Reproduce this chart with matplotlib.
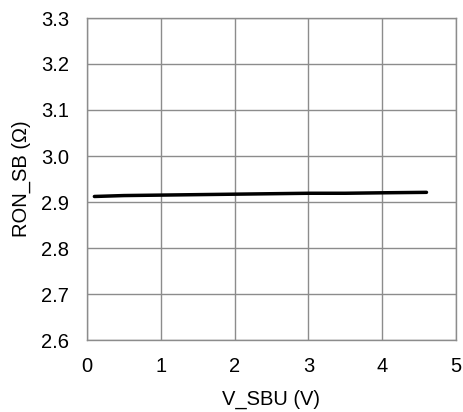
import matplotlib
matplotlib.use('Agg')
import matplotlib.pyplot as plt

# values
v_sbu = [0.1, 0.5, 1.0, 1.5, 2.0, 2.5, 3.0, 3.5, 4.0, 4.6]
ron_sb = [2.912, 2.914, 2.915, 2.916, 2.917, 2.918, 2.919, 2.919, 2.920, 2.921]

x_ticks = [0, 1, 2, 3, 4, 5]
y_ticks = [2.6, 2.7, 2.8, 2.9, 3.0, 3.1, 3.2, 3.3]

plt.rcParams['font.family'] = ['Liberation Sans', 'DejaVu Sans']

fig = plt.figure(figsize=(4.63, 4.12), dpi=100)
ax = fig.add_axes([87 / 463, 1 - 340 / 412, (456 - 87) / 463, (340 - 18) / 412])

ax.plot(v_sbu, ron_sb, color='black', lw=2.5, solid_capstyle='round')

ax.set_xlim(0, 5)
ax.set_ylim(2.6, 3.3)
ax.set_xticks(x_ticks)
ax.set_yticks(y_ticks)
ax.set_xticklabels([str(t) for t in x_ticks])
ax.set_yticklabels(['%.1f' % t for t in y_ticks])
ax.grid(True, color='#8c8c8c', lw=1.0)
ax.set_axisbelow(True)
for s in ax.spines.values():
    s.set_color('#8c8c8c')
    s.set_linewidth(1.0)
ax.tick_params(axis='y', length=0, labelsize=14.5, pad=13)
ax.tick_params(axis='x', length=0, labelsize=14.5, pad=12)

ax.set_xlabel('V_SBU (V)', fontsize=14.5, labelpad=10)
ax.set_ylabel('RON_SB (Ω)', fontsize=14.5, labelpad=7)

fig.savefig('out.png', dpi=100)
